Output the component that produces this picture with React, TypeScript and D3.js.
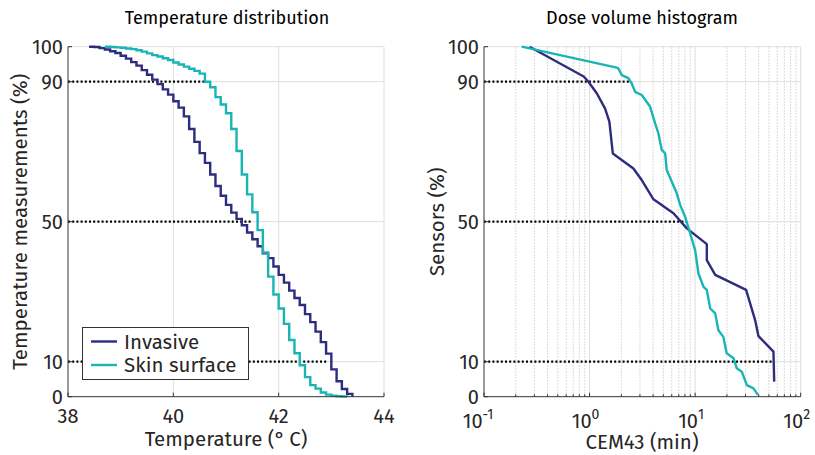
import React from 'react';
import * as d3 from 'd3';

// ---------- data ----------
const invTemp = [38.4, 38.5, 38.6, 38.7, 38.8, 38.9, 39.0, 39.1, 39.2, 39.3, 39.4, 39.5, 39.6, 39.7, 39.8, 39.9, 40.0, 40.1, 40.2, 40.3, 40.4, 40.5, 40.6, 40.7, 40.8, 40.9, 41.0, 41.1, 41.2, 41.3, 41.4, 41.5, 41.6, 41.7, 41.8, 41.9, 42.0, 42.1, 42.2, 42.3, 42.4, 42.5, 42.6, 42.7, 42.8, 42.9, 43.0, 43.1, 43.2, 43.3, 43.4];
const invPct = [100, 99.9, 99.6, 99.2, 98.7, 98.2, 97.4, 96.6, 95.6, 94.6, 93.3, 92.0, 90.6, 89.3, 87.8, 86.3, 84.4, 82.6, 80.1, 76.5, 72.8, 69.6, 66.8, 63.5, 60.2, 57.4, 54.8, 52.6, 50.8, 49.0, 46.9, 45.0, 43.0, 41.0, 39.6, 37.2, 34.8, 32.6, 30.3, 28.2, 26.2, 23.6, 21.3, 18.6, 15.6, 12.3, 7.8, 4.4, 2.2, 0.8, 0];

const skinTemp = [38.7, 38.8, 38.9, 39.0, 39.1, 39.2, 39.3, 39.4, 39.5, 39.6, 39.7, 39.8, 39.9, 40.0, 40.1, 40.2, 40.3, 40.4, 40.5, 40.6, 40.7, 40.8, 40.9, 41.0, 41.1, 41.2, 41.3, 41.4, 41.5, 41.6, 41.7, 41.8, 41.9, 42.0, 42.1, 42.2, 42.3, 42.4, 42.5, 42.6, 42.7, 42.8, 42.9, 43.0, 43.1, 43.2, 43.3];
const skinPct = [100, 99.9, 99.8, 99.7, 99.5, 99.3, 99.0, 98.6, 98.1, 97.6, 97.2, 96.7, 96.2, 95.5, 94.9, 94.3, 93.7, 93.1, 92.3, 90.0, 88.4, 85.6, 83.5, 81.0, 76.5, 70.2, 63.5, 57.8, 52.7, 47.6, 41.2, 34.3, 29.2, 25.2, 20.8, 16.2, 12.4, 9.0, 5.6, 3.3, 2.3, 1.2, 0.6, 0.3, 0.15, 0.05, 0];

const invDose = [0.27, 0.88, 0.975, 1.17, 1.40, 1.54, 1.66, 2.60, 3.12, 4.03, 6.23, 8.34, 12.9, 12.9, 15.5, 30.4, 37.0, 39.8, 55.2, 56.1];
const invDosePct = [100, 91.5, 90, 86.7, 82.4, 78.6, 69.5, 65.2, 61.9, 56.4, 52.4, 48.1, 43.6, 39.0, 34.8, 30.5, 21.9, 17.3, 12.9, 4.3];

const skinDose = [0.228, 0.525, 1.81, 1.87, 2.02, 2.33, 2.51, 2.70, 3.12, 3.74, 4.18, 4.49, 4.83, 5.2, 5.38, 6.01, 6.70, 7.21, 8.04, 8.97, 10.0, 10.75, 12.0, 12.9, 13.9, 15.5, 16.6, 18.5, 19.9, 23.1, 24.8, 27.7, 30.9, 35.7, 39.3];
const skinDosePct = [100, 97.6, 94.0, 93.8, 91.9, 91.0, 89.5, 87.1, 86.2, 82.9, 78.1, 75.2, 70.5, 69.5, 64.8, 61.4, 58.1, 54.8, 51.4, 46.7, 41.9, 35.2, 31.4, 30.5, 25.2, 23.8, 19.0, 17.1, 12.4, 11.0, 8.1, 7.1, 3.3, 2.4, 0.5];

const levels = [90, 50, 10];
const tempLevelEnds = [40.6, 41.47, 42.93];
const doseLevelEnds = [2.46, 8.34, 54.8];

const tempTicks = [38, 40, 42, 44];
const pctTicks = [0, 10, 50, 90, 100];
const doseDecades = [-1, 0, 1, 2];

const seriesNames = ['Invasive', 'Skin surface'];
const colors = ['#2e2c7e', '#19b5b5'];

// ---------- layout ----------
const FONT = "'Fira Sans', 'Open Sans', 'Noto Sans', sans-serif";
const TXT = '#262626';
const GRID = '#dedede';
const AX = '#333333';

const xT = d3.scaleLinear().domain([38, 44]).range([68, 384]);
const yP = d3.scaleLinear().domain([0, 100]).range([396.7, 46.7]);
const xD = d3.scaleLog().domain([0.1, 100]).range([484, 800.7]);

export default function App() {
  const stepLine = d3.line<[number, number]>().x(d => xT(d[0])).y(d => yP(d[1])).curve(d3.curveStepAfter);
  const doseLine = d3.line<[number, number]>().x(d => xD(d[0])).y(d => yP(d[1]));

  const invPts = invTemp.map((t, i) => [t, invPct[i]] as [number, number]);
  const skinPts = skinTemp.map((t, i) => [t, skinPct[i]] as [number, number]);
  const invDPts = invDose.map((t, i) => [t, invDosePct[i]] as [number, number]);
  const skinDPts = skinDose.map((t, i) => [t, skinDosePct[i]] as [number, number]);

  const minorDose: number[] = [];
  for (let e = -1; e < 2; e++) {
    for (let m = 2; m <= 9; m++) minorDose.push(m * Math.pow(10, e));
  }
  const majorDose = doseDecades.map(e => Math.pow(10, e));

  const y0 = yP(0), y100 = yP(100);
  const fs = 20;
  const fl = 20.5;
  const ft = 18;

  return (
    <svg width={815} height={455} style={{ display: 'block', position: 'absolute', left: 0, top: 0 }} fontFamily={FONT}>
      <rect width={815} height={455} fill="#fff" />

      {/* ===== Left panel ===== */}
      {tempTicks.slice(1).map(t => (
        <line key={'gx' + t} x1={xT(t)} x2={xT(t)} y1={y0} y2={y100} stroke={GRID} strokeWidth={1} />
      ))}
      {pctTicks.slice(1).map(p => (
        <line key={'gy' + p} x1={xT(38)} x2={xT(44)} y1={yP(p)} y2={yP(p)} stroke={GRID} strokeWidth={1} />
      ))}
      {levels.map((l, i) => (
        <line key={'lt' + l} x1={xT(38)} x2={xT(tempLevelEnds[i])} y1={yP(l)} y2={yP(l)} stroke="#000" strokeWidth={2.2} strokeDasharray="2,2.2" />
      ))}
      <path d={stepLine(invPts) || ''} fill="none" stroke={colors[0]} strokeWidth={2.4} />
      <path d={stepLine(skinPts) || ''} fill="none" stroke={colors[1]} strokeWidth={2.4} />
      <line x1={xT(38)} x2={xT(44)} y1={y0} y2={y0} stroke={AX} strokeWidth={1} />
      <line x1={xT(38)} x2={xT(38)} y1={y0} y2={y100} stroke={AX} strokeWidth={1} />
      {tempTicks.map(t => (
        <g key={'tx' + t}>
          <line x1={xT(t)} x2={xT(t)} y1={y0} y2={y0 - 4} stroke={AX} />
          <text x={xT(t)} y={y0 + 26} textAnchor="middle" fontSize={fs} fill={TXT}>{t}</text>
        </g>
      ))}
      {pctTicks.map(p => (
        <g key={'ty' + p}>
          <line x1={xT(38)} x2={xT(38) + 4} y1={yP(p)} y2={yP(p)} stroke={AX} />
          <text x={xT(38) - 5} y={yP(p) + 7} textAnchor="end" fontSize={fs} fill={TXT}>{p}</text>
        </g>
      ))}
      <text x={227} y={24} textAnchor="middle" fontSize={ft} fill="#000">Temperature distribution</text>
      <text x={226} y={446} textAnchor="middle" fontSize={fl} fill={TXT}>Temperature (°&#8201;C)</text>
      <text transform={`translate(27,${(y0 + y100) / 2}) rotate(-90)`} textAnchor="middle" fontSize={fl} fill={TXT}>Temperature measurements (%)</text>

      {/* legend */}
      <rect x={82.5} y={327.5} width={166} height={52} fill="#fff" stroke={AX} strokeWidth={1} />
      {seriesNames.map((n, i) => (
        <g key={n}>
          <line x1={91} x2={117} y1={341.5 + i * 23.5} y2={341.5 + i * 23.5} stroke={colors[i]} strokeWidth={2.4} />
          <text x={124} y={341.5 + i * 23.5 + 7} fontSize={fl} fill={TXT}>{n}</text>
        </g>
      ))}

      {/* ===== Right panel ===== */}
      {minorDose.map(v => (
        <line key={'mg' + v} x1={xD(v)} x2={xD(v)} y1={y0} y2={y100} stroke="#c4c4c4" strokeWidth={0.8} strokeDasharray="1.5,1.5" />
      ))}
      {majorDose.slice(1).map(v => (
        <line key={'Mg' + v} x1={xD(v)} x2={xD(v)} y1={y0} y2={y100} stroke={GRID} strokeWidth={1} />
      ))}
      {pctTicks.slice(1).map(p => (
        <line key={'gyr' + p} x1={xD(0.1)} x2={xD(100)} y1={yP(p)} y2={yP(p)} stroke={GRID} strokeWidth={1} />
      ))}
      {levels.map((l, i) => (
        <line key={'ld' + l} x1={xD(0.1)} x2={xD(doseLevelEnds[i])} y1={yP(l)} y2={yP(l)} stroke="#000" strokeWidth={2.2} strokeDasharray="2,2.2" />
      ))}
      <path d={doseLine(invDPts) || ''} fill="none" stroke={colors[0]} strokeWidth={2.4} strokeLinejoin="round" />
      <path d={doseLine(skinDPts) || ''} fill="none" stroke={colors[1]} strokeWidth={2.4} strokeLinejoin="round" />
      <line x1={xD(0.1)} x2={xD(100)} y1={y0} y2={y0} stroke={AX} strokeWidth={1} />
      <line x1={xD(0.1)} x2={xD(0.1)} y1={y0} y2={y100} stroke={AX} strokeWidth={1} />
      {minorDose.map(v => (
        <line key={'mt' + v} x1={xD(v)} x2={xD(v)} y1={y0} y2={y0 - 2.5} stroke={AX} />
      ))}
      {doseDecades.map(e => (
        <g key={'dx' + e}>
          <line x1={xD(Math.pow(10, e))} x2={xD(Math.pow(10, e))} y1={y0} y2={y0 - 4} stroke={AX} />
          <text x={xD(Math.pow(10, e)) - (e < 0 ? 6 : 4)} y={y0 + 31} textAnchor="middle" fontSize={fs} fill={TXT}>
            10<tspan dy={-9} fontSize={14}>{e}</tspan>
          </text>
        </g>
      ))}
      {pctTicks.map(p => (
        <g key={'tyr' + p}>
          <line x1={xD(0.1)} x2={xD(0.1) + 4} y1={yP(p)} y2={yP(p)} stroke={AX} />
          <text x={xD(0.1) - 5} y={yP(p) + 7} textAnchor="end" fontSize={fs} fill={TXT}>{p}</text>
        </g>
      ))}
      <text x={642} y={24} textAnchor="middle" fontSize={ft} fill="#000">Dose volume histogram</text>
      <text x={642} y={449} textAnchor="middle" fontSize={fl} fill={TXT}>CEM43 (min)</text>
      <text transform={`translate(444,${(y0 + y100) / 2}) rotate(-90)`} textAnchor="middle" fontSize={fl} fill={TXT}>Sensors (%)</text>
    </svg>
  );
}
